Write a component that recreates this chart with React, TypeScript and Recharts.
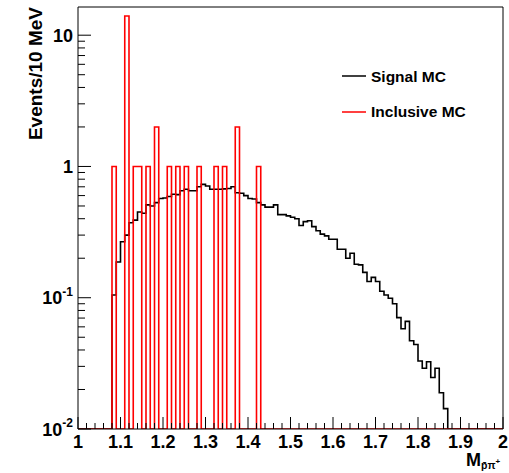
import React from 'react'
import { ComposedChart, Line, XAxis, YAxis, ReferenceLine } from 'recharts'

// 10 MeV bins from 1.00 to 2.00
const binLow = 1.0
const binWidth = 0.01
const nBins = 100
const yFloor = 0.01 // empty bins sit on the axis floor (log scale)
const yTop = 16.4

// Signal MC, consecutive bins starting at 1.08
const signalStart = 1.08
const signalMC = [
  0.105, 0.187, 0.267, 0.3, 0.373, 0.39, 0.45, 0.44, 0.51, 0.5,
  0.53, 0.57, 0.575, 0.59, 0.614, 0.61, 0.654, 0.67, 0.654, 0.654,
  0.7, 0.73, 0.71, 0.67, 0.67, 0.67, 0.675, 0.68, 0.7, 0.63,
  0.625, 0.6, 0.57, 0.565, 0.53, 0.51, 0.49, 0.49, 0.51, 0.43,
  0.43, 0.42, 0.41, 0.4, 0.355, 0.38, 0.386, 0.348, 0.324, 0.305,
  0.296, 0.279, 0.279, 0.234, 0.234, 0.2, 0.218, 0.18, 0.178, 0.156,
  0.133, 0.143, 0.133, 0.112, 0.105, 0.099, 0.09, 0.0705, 0.058, 0.066,
  0.047, 0.044, 0.033, 0.029, 0.0325, 0.0247, 0.029, 0.0189, 0.0143,
]

// Inclusive MC, only the filled bins (low edges) and their counts
const inclusiveBins = [1.08, 1.11, 1.13, 1.14, 1.16, 1.18, 1.21, 1.23, 1.25, 1.28, 1.32, 1.34, 1.37, 1.42]
const inclusiveCounts = [1, 14, 1, 1, 1, 2, 1, 1, 1, 1, 1, 1, 2, 1]

const yTicks = [
  0.01, 0.02, 0.03, 0.04, 0.05, 0.06, 0.07, 0.08, 0.09,
  0.1, 0.2, 0.3, 0.4, 0.5, 0.6, 0.7, 0.8, 0.9,
  1, 2, 3, 4, 5, 6, 7, 8, 9, 10,
]
const yMajorLabels: Record<string, [string, string]> = {
  '0.01': ['10', '-2'],
  '0.1': ['10', '-1'],
  '1': ['1', ''],
  '10': ['10', ''],
}

const round2 = (v: number) => Math.round(v * 100) / 100
const binIndex = (v: number) => Math.round((v - binLow) / binWidth)

const xTicks = Array.from({ length: 51 }, (_, i) => round2(binLow + i * 0.02))

// table of bin low edges, plus a closing point at 2.0 for the step lines
const table = Array.from({ length: nBins + 1 }, (_, i) => {
  const b = Math.min(i, nBins - 1)
  const s = b - binIndex(signalStart)
  const sig = s >= 0 && s < signalMC.length ? signalMC[s] : 0
  const k = inclusiveBins.findIndex((v) => binIndex(v) === b)
  const inc = k >= 0 ? inclusiveCounts[k] : 0
  return {
    x: round2(binLow + i * binWidth),
    signal: sig > 0 ? sig : yFloor,
    inclusive: inc > 0 ? inc : yFloor,
  }
})

const font = '"Liberation Sans", Arial, Helvetica, sans-serif'

const XTick = (props: any) => {
  const { x, y, payload } = props
  const v = payload.value as number
  const major = Math.abs(v * 10 - Math.round(v * 10)) < 1e-6
  return (
    <g>
      <line x1={x} x2={x} y1={y} y2={y - (major ? 12 : 6)} stroke="#000" strokeWidth={1} />
      {major && (
        <text x={x} y={y + 19} textAnchor="middle" fontSize={18} fontWeight={700} fontFamily={font} fill="#000">
          {String(Math.round(v * 10) / 10)}
        </text>
      )}
    </g>
  )
}

const YTick = (props: any) => {
  const { x, y, payload } = props
  const lab = yMajorLabels[String(payload.value)]
  return (
    <g>
      <line x1={x} x2={x + (lab ? 13 : 7)} y1={y} y2={y} stroke="#000" strokeWidth={1} />
      {lab && (
        <text x={x - 5} y={y + 6.5} textAnchor="end" fontSize={18} fontWeight={700} fontFamily={font} fill="#000">
          {lab[0]}
          {lab[1] && (
            <tspan dy={-8.5} fontSize={12}>
              {lab[1]}
            </tspan>
          )}
        </text>
      )}
    </g>
  )
}

export default function App() {
  return (
    <div style={{ position: 'absolute', left: 0, top: 0, width: 509, height: 473, background: '#fff' }}>
      <ComposedChart width={509} height={473} data={table} margin={{ top: 7, right: 6, bottom: 0, left: 0 }}>
        <XAxis
          dataKey="x"
          type="number"
          domain={[1, 2]}
          allowDataOverflow
          ticks={xTicks}
          interval={0}
          height={44}
          tickSize={0}
          tickMargin={0}
          tickLine={false}
          tick={XTick}
          axisLine={{ stroke: '#000' }}
        />
        <YAxis
          type="number"
          scale="log"
          domain={[yFloor, yTop]}
          allowDataOverflow
          ticks={yTicks}
          interval={0}
          width={78}
          tickSize={0}
          tickMargin={0}
          tickLine={false}
          tick={YTick}
          axisLine={{ stroke: '#000' }}
        />
        <ReferenceLine y={yTop} stroke="#000" />
        <ReferenceLine x={2} stroke="#000" />
        <Line
          dataKey="signal"
          type="stepAfter"
          stroke="#000"
          strokeWidth={1.6}
          dot={false}
          isAnimationActive={false}
        />
        <Line
          dataKey="inclusive"
          type="stepAfter"
          stroke="#ff0000"
          strokeWidth={1.6}
          dot={false}
          isAnimationActive={false}
        />
      </ComposedChart>
      <svg width={509} height={473} style={{ position: 'absolute', left: 0, top: 0, pointerEvents: 'none' }}>
        <text
          transform="translate(42,7) rotate(-90)"
          textAnchor="end"
          fontSize={19}
          fontWeight={700}
          fontFamily={font}
          fill="#000"
        >
          Events/10 MeV
        </text>
        <text x={466} y={466} fontSize={18} fontWeight={700} fontFamily={font} fill="#000">
          M
          <tspan dy={3} fontSize={10.5}>
            {'p\u0304\u03c0'}
          </tspan>
          <tspan dy={-5} fontSize={8}>
            +
          </tspan>
        </text>
        {/* legend */}
        <line x1={342} x2={366} y1={76} y2={76} stroke="#000" strokeWidth={1.5} />
        <text x={371} y={82} fontSize={15.5} fontWeight={700} fontFamily={font} fill="#000">
          Signal MC
        </text>
        <line x1={342} x2={366} y1={112} y2={112} stroke="#ff0000" strokeWidth={1.5} />
        <text x={371} y={117} fontSize={15.5} fontWeight={700} fontFamily={font} fill="#000">
          Inclusive MC
        </text>
      </svg>
    </div>
  )
}
